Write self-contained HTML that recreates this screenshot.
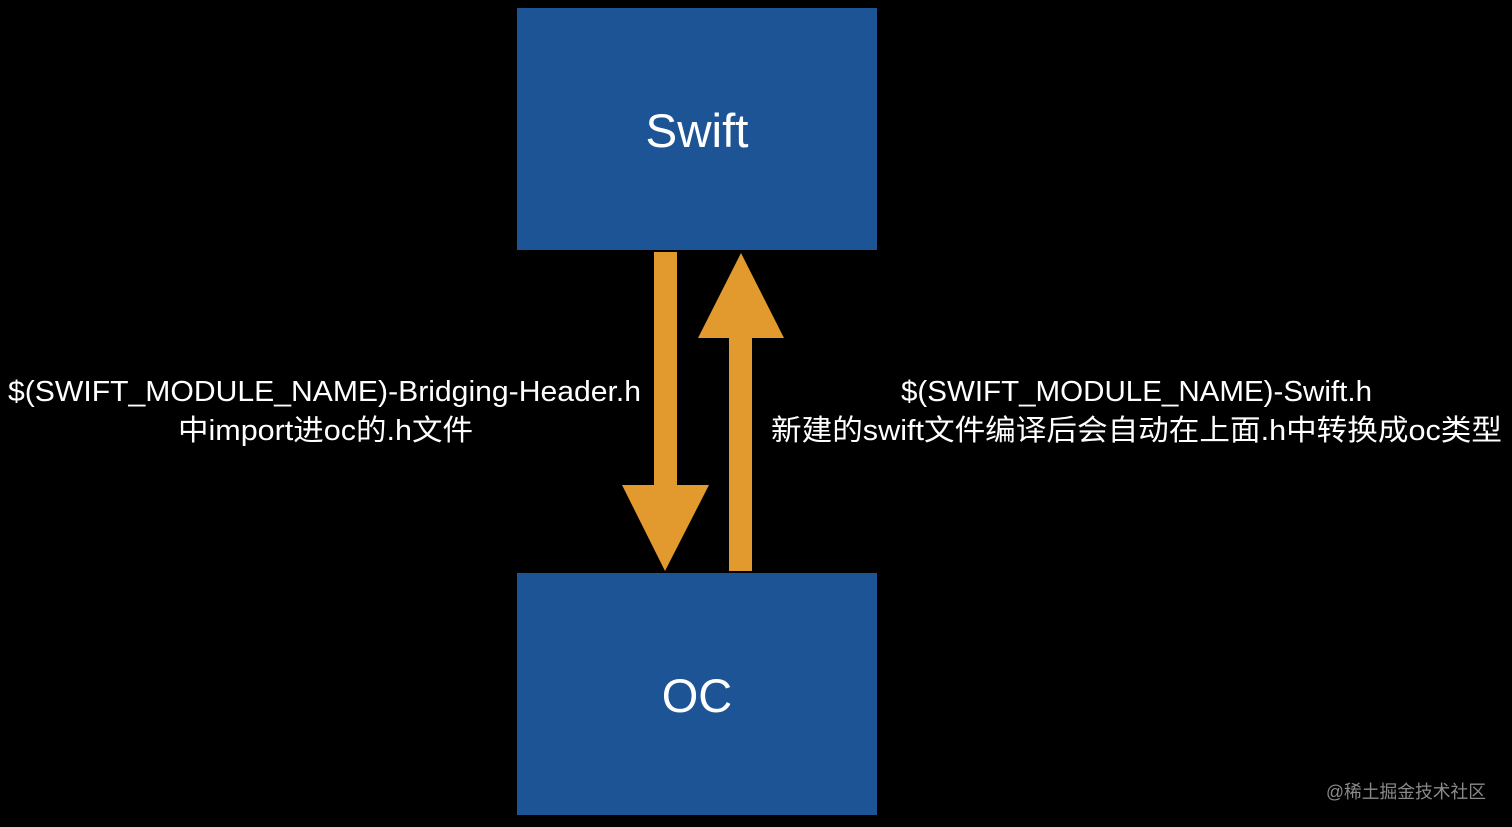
<!DOCTYPE html>
<html><head><meta charset="utf-8"><style>
html,body{margin:0;padding:0;background:#000;width:1512px;height:827px;overflow:hidden}
svg{display:block}
text{font-family:"Liberation Sans","Noto Sans CJK SC",sans-serif;fill:#fff}
</style></head><body>
<svg width="1512" height="827" viewBox="0 0 1512 827">
<rect x="0" y="0" width="1512" height="827" fill="#000"/>
<rect x="517" y="8" width="360" height="242" fill="#1d5495"/>
<rect x="517" y="573" width="360" height="242" fill="#1d5495"/>
<text x="697" y="147" font-size="47" text-anchor="middle" textLength="103" lengthAdjust="spacingAndGlyphs">Swift</text>
<text x="697" y="712" font-size="47" text-anchor="middle">OC</text>
<polygon points="654,252 677,252 677,485 709,485 665,571 622,485 654,485" fill="#e2992d"/>
<polygon points="741,253 784,338 752,338 752,571 729,571 729,338 698,338" fill="#e2992d"/>
<text x="8" y="401" font-size="29" textLength="633" lengthAdjust="spacingAndGlyphs">$(SWIFT_MODULE_NAME)-Bridging-Header.h</text>
<text x="178" y="440" font-size="29" textLength="295" lengthAdjust="spacingAndGlyphs">中import进oc的.h文件</text>
<text x="901" y="401" font-size="29" textLength="471" lengthAdjust="spacingAndGlyphs">$(SWIFT_MODULE_NAME)-Swift.h</text>
<text x="771" y="440" font-size="29" textLength="731" lengthAdjust="spacingAndGlyphs">新建的swift文件编译后会自动在上面.h中转换成oc类型</text>
<text x="1326" y="798" font-size="18" textLength="160" lengthAdjust="spacingAndGlyphs" style="fill:#8a8a8a">@稀土掘金技术社区</text>
</svg>
</body></html>
